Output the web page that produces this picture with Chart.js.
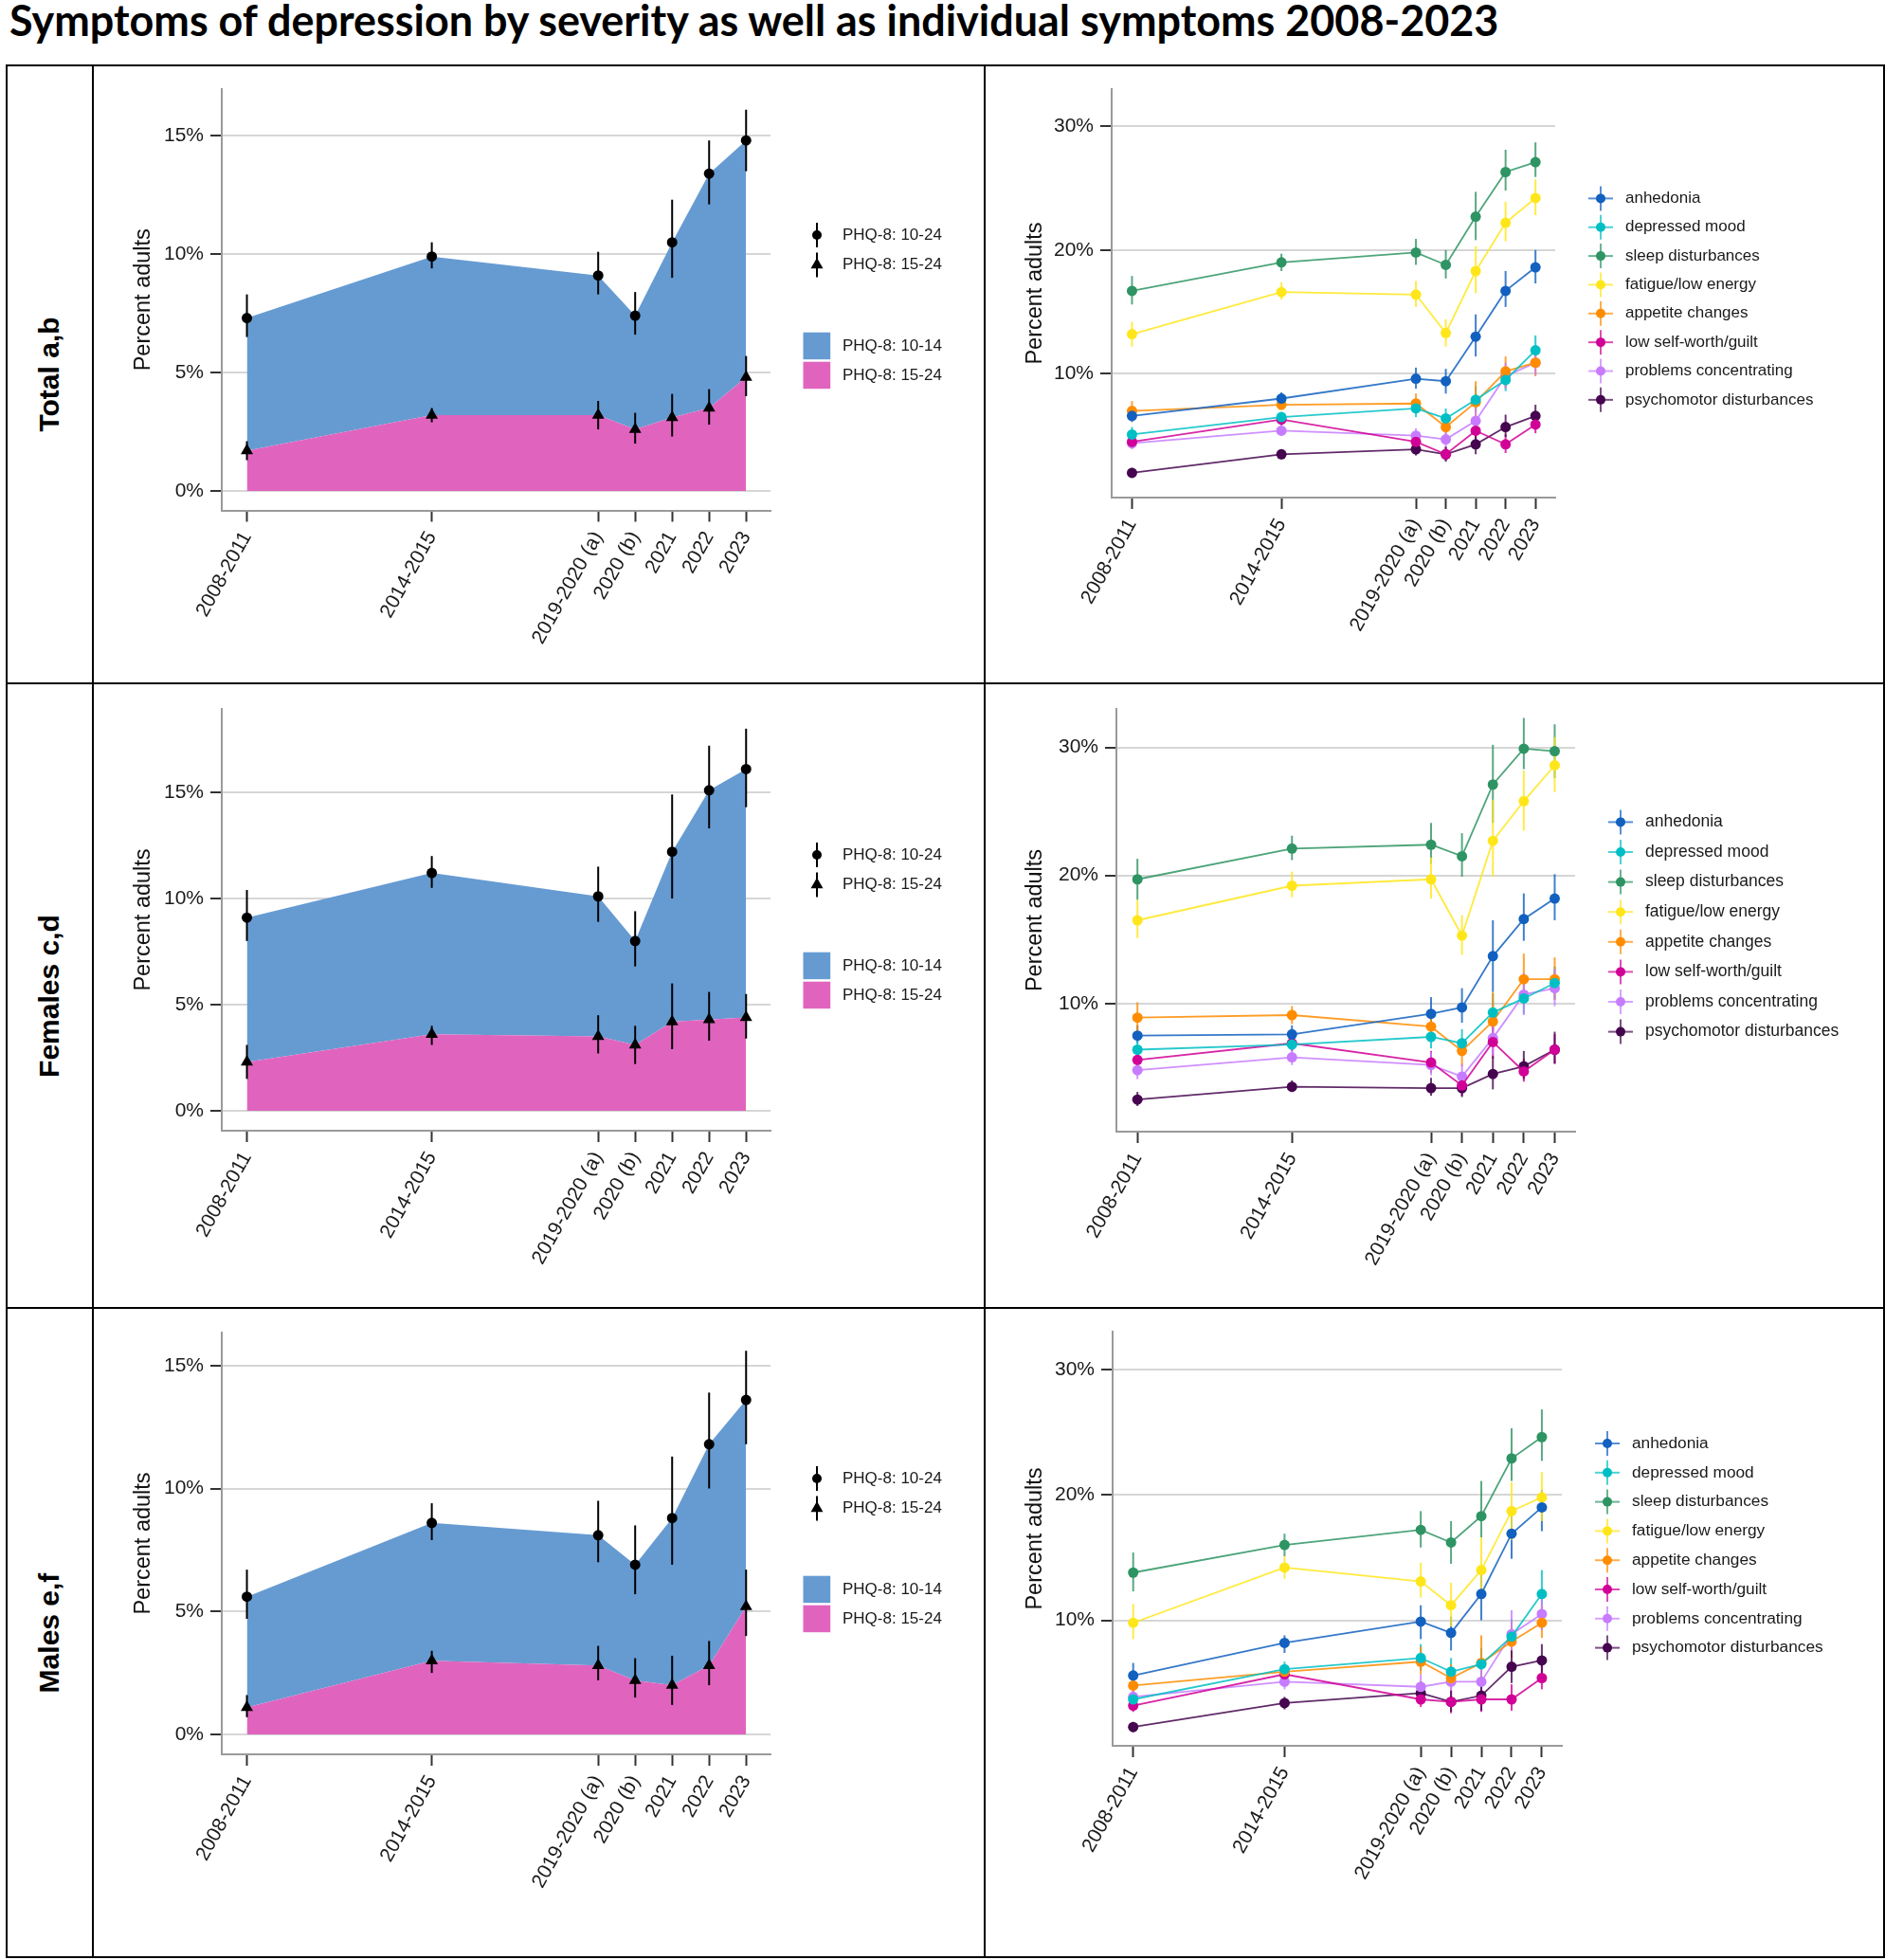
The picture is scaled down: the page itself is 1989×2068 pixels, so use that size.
<!DOCTYPE html>
<html>
<head>
<meta charset="utf-8">
<title>Symptoms of depression by severity</title>
<script src="https://cdn.jsdelivr.net/npm/chart.js@4.4.1/dist/chart.umd.min.js"></script>
<style>
  html, body { margin:0; padding:0; background:#fff; }
  #page { position:relative; width:1989px; height:2068px; overflow:hidden; background:#fff; }
  #title { position:absolute; left:10px; top:-1px; height:44px; line-height:44px; font-family:Lato,'Liberation Sans',sans-serif; font-weight:bold; font-size:33px; color:#000; white-space:nowrap; }
  .rule { position:absolute; background:#000; }
  .rowlabel { position:absolute; left:-148px; width:400px; height:36px; line-height:36px; text-align:center; font-family:'Liberation Sans',Arial,sans-serif; font-weight:bold; font-size:30px; color:#000; transform:rotate(-90deg); white-space:nowrap; }
  canvas { position:absolute; }
</style>
</head>
<body>
<div id="page">
  <div id="title">Symptoms of depression by severity as well as individual symptoms 2008-2023</div>
  <canvas id="c1"></canvas><canvas id="c2"></canvas>
  <canvas id="c3"></canvas><canvas id="c4"></canvas>
  <canvas id="c5"></canvas><canvas id="c6"></canvas>
</div>
<script>
// ---------------- categories / ticks ----------------
const surveyLabels = ['2008-2011', '2014-2015', '2019-2020 (a)', '2020 (b)', '2021', '2022', '2023'];
const surveyYears  = [2009.5, 2014.5, 2019, 2020, 2021, 2022, 2023];
const severityTicks = [0, 5, 10, 15];
const symptomTicks  = [10, 20, 30];
const rowLabels = ['Total a,b', 'Females c,d', 'Males e,f'];
const severityLegend = ['PHQ-8: 10-24', 'PHQ-8: 15-24', 'PHQ-8: 10-14', 'PHQ-8: 15-24'];
const symptomNames = ['anhedonia', 'depressed mood', 'sleep disturbances', 'fatigue/low energy',
  'appetite changes', 'low self-worth/guilt', 'problems concentrating', 'psychomotor disturbances'];

// ---------------- severity (PHQ-8) ----------------
const totalPhq10   = [7.3, 9.9, 9.1, 7.4, 10.5, 13.4, 14.8];
const totalPhq10Lo = [6.5, 9.4, 8.3, 6.6, 9.0, 12.1, 13.5];
const totalPhq10Hi = [8.3, 10.5, 10.1, 8.4, 12.3, 14.8, 16.1];
const totalPhq15   = [1.7, 3.2, 3.2, 2.6, 3.1, 3.5, 4.8];
const totalPhq15Lo = [1.3, 2.9, 2.6, 2.0, 2.3, 2.8, 4.0];
const totalPhq15Hi = [2.1, 3.5, 3.8, 3.3, 4.1, 4.3, 5.7];

const femalesPhq10   = [9.1, 11.2, 10.1, 8.0, 12.2, 15.1, 16.1];
const femalesPhq10Lo = [8.0, 10.5, 8.9, 6.8, 10.0, 13.3, 14.3];
const femalesPhq10Hi = [10.4, 12.0, 11.5, 9.4, 14.9, 17.2, 18.0];
const femalesPhq15   = [2.3, 3.6, 3.5, 3.1, 4.2, 4.3, 4.4];
const femalesPhq15Lo = [1.5, 3.1, 2.7, 2.2, 2.9, 3.3, 3.4];
const femalesPhq15Hi = [3.1, 4.0, 4.5, 4.0, 6.0, 5.6, 5.5];

const malesPhq10   = [5.6, 8.6, 8.1, 6.9, 8.8, 11.8, 13.6];
const malesPhq10Lo = [4.7, 7.9, 7.0, 5.7, 6.9, 10.0, 11.8];
const malesPhq10Hi = [6.7, 9.4, 9.5, 8.5, 11.3, 13.9, 15.6];
const malesPhq15   = [1.1, 3.0, 2.8, 2.2, 2.0, 2.8, 5.2];
const malesPhq15Lo = [0.7, 2.5, 2.2, 1.5, 1.2, 2.0, 4.0];
const malesPhq15Hi = [1.6, 3.4, 3.6, 3.1, 3.2, 3.8, 6.7];

// ---------------- individual symptoms: Total ----------------
const totalAnhedonia   = [6.6, 8.0, 9.6, 9.4, 13.0, 16.7, 18.6];
const totalAnhedoniaLo = [6.1, 7.6, 8.8, 8.4, 11.4, 15.4, 17.3];
const totalAnhedoniaHi = [7.1, 8.5, 10.5, 10.4, 14.8, 18.3, 20.0];
const totalDepressed   = [5.1, 6.5, 7.2, 6.4, 7.9, 9.5, 11.9];
const totalDepressedLo = [4.6, 6.1, 6.5, 5.7, 6.9, 8.6, 10.8];
const totalDepressedHi = [5.7, 6.9, 7.9, 7.2, 9.0, 10.5, 13.1];
const totalSleep   = [16.7, 19.0, 19.8, 18.8, 22.7, 26.3, 27.1];
const totalSleepLo = [15.6, 18.3, 18.8, 17.7, 20.8, 24.8, 25.9];
const totalSleepHi = [17.9, 19.7, 20.9, 20.0, 24.7, 28.1, 28.7];
const totalFatigue   = [13.2, 16.6, 16.4, 13.3, 18.3, 22.2, 24.2];
const totalFatigueLo = [12.2, 16.0, 15.4, 12.2, 16.5, 20.7, 22.8];
const totalFatigueHi = [14.2, 17.4, 17.5, 14.4, 20.3, 23.9, 25.7];
const totalAppetite   = [7.0, 7.5, 7.6, 5.7, 7.7, 10.2, 10.9];
const totalAppetiteLo = [6.3, 7.1, 6.8, 5.0, 6.5, 8.9, 9.8];
const totalAppetiteHi = [7.8, 8.0, 8.4, 6.5, 9.4, 11.4, 11.9];
const totalSelfWorth   = [4.5, 6.3, 4.5, 3.5, 5.4, 4.3, 5.9];
const totalSelfWorthLo = [4.1, 5.8, 4.0, 3.0, 4.6, 3.6, 5.2];
const totalSelfWorthHi = [5.0, 6.8, 5.1, 4.1, 6.3, 5.1, 6.7];
const totalConcentrating   = [4.4, 5.4, 5.0, 4.7, 6.2, 9.8, 10.9];
const totalConcentratingLo = [3.9, 5.0, 4.4, 4.1, 5.2, 8.8, 9.9];
const totalConcentratingHi = [4.9, 5.9, 5.6, 5.4, 7.4, 10.9, 11.9];
const totalPsychomotor   = [2.0, 3.5, 3.9, 3.5, 4.3, 5.7, 6.6];
const totalPsychomotorLo = [1.7, 3.1, 3.4, 2.9, 3.5, 4.9, 5.8];
const totalPsychomotorHi = [2.4, 3.9, 4.5, 4.1, 5.2, 6.7, 7.5];

// ---------------- individual symptoms: Females ----------------
const femalesAnhedonia   = [7.5, 7.6, 9.2, 9.7, 13.7, 16.6, 18.2];
const femalesAnhedoniaLo = [6.9, 7.0, 8.1, 8.5, 10.9, 14.9, 16.5];
const femalesAnhedoniaHi = [8.3, 8.3, 10.5, 11.2, 16.5, 18.6, 20.1];
const femalesDepressed   = [6.4, 6.8, 7.4, 6.9, 9.3, 10.4, 11.6];
const femalesDepressedLo = [5.7, 6.3, 6.5, 5.9, 7.9, 9.2, 10.3];
const femalesDepressedHi = [7.1, 7.4, 8.3, 8.0, 10.8, 11.8, 12.9];
const femalesSleep   = [19.7, 22.1, 22.4, 21.5, 27.1, 29.9, 29.7];
const femalesSleepLo = [18.1, 21.2, 20.9, 19.9, 24.1, 28.3, 27.6];
const femalesSleepHi = [21.3, 23.1, 24.1, 23.3, 30.2, 32.3, 31.8];
const femalesFatigue   = [16.5, 19.2, 19.7, 15.3, 22.7, 25.8, 28.6];
const femalesFatigueLo = [15.1, 18.3, 18.2, 13.8, 19.9, 23.5, 26.5];
const femalesFatigueHi = [18.1, 20.3, 21.4, 16.9, 25.9, 28.2, 30.8];
const femalesAppetite   = [8.9, 9.1, 8.2, 6.3, 8.6, 11.9, 11.9];
const femalesAppetiteLo = [7.8, 8.4, 7.3, 5.1, 7.2, 10.1, 10.3];
const femalesAppetiteHi = [10.1, 9.8, 9.2, 7.3, 10.9, 13.9, 13.6];
const femalesSelfWorth   = [5.6, 6.9, 5.4, 3.6, 7.0, 4.7, 6.4];
const femalesSelfWorthLo = [4.9, 6.3, 4.6, 2.8, 5.7, 3.9, 5.3];
const femalesSelfWorthHi = [6.4, 7.6, 6.3, 4.5, 8.5, 5.7, 7.6];
const femalesConcentrating   = [4.8, 5.8, 5.2, 4.3, 7.3, 10.7, 11.2];
const femalesConcentratingLo = [4.1, 5.2, 4.4, 3.4, 6.0, 9.1, 9.8];
const femalesConcentratingHi = [5.6, 6.4, 6.2, 5.3, 8.7, 12.4, 12.7];
const femalesPsychomotor   = [2.5, 3.5, 3.4, 3.4, 4.5, 5.1, 6.4];
const femalesPsychomotorLo = [2.0, 3.1, 2.8, 2.7, 3.3, 4.1, 5.3];
const femalesPsychomotorHi = [3.1, 4.0, 4.2, 4.4, 5.9, 6.3, 7.8];

// ---------------- individual symptoms: Males ----------------
const malesAnhedonia   = [5.6, 8.2, 9.9, 9.0, 12.1, 16.9, 19.0];
const malesAnhedoniaLo = [4.8, 7.4, 8.5, 7.6, 10.0, 14.9, 17.1];
const malesAnhedoniaHi = [6.6, 8.8, 11.2, 10.3, 14.1, 18.8, 20.4];
const malesDepressed   = [3.7, 6.1, 7.0, 5.9, 6.5, 8.7, 12.1];
const malesDepressedLo = [3.2, 5.5, 6.0, 4.8, 5.4, 7.4, 10.6];
const malesDepressedHi = [4.4, 6.7, 8.1, 7.0, 7.8, 10.1, 14.0];
const malesSleep   = [13.8, 16.0, 17.2, 16.2, 18.3, 22.9, 24.6];
const malesSleepLo = [12.3, 15.1, 15.8, 14.5, 16.6, 21.1, 22.7];
const malesSleepHi = [15.4, 16.9, 18.7, 17.9, 21.1, 25.3, 26.8];
const malesFatigue   = [9.8, 14.2, 13.1, 11.2, 14.0, 18.7, 19.8];
const malesFatigueLo = [8.5, 13.3, 11.8, 9.5, 11.8, 16.4, 17.9];
const malesFatigueHi = [11.3, 15.1, 14.6, 13.0, 16.6, 21.0, 21.8];
const malesAppetite   = [4.8, 5.9, 6.7, 5.4, 6.6, 8.3, 9.8];
const malesAppetiteLo = [4.2, 5.4, 5.7, 4.4, 5.3, 7.0, 8.6];
const malesAppetiteHi = [5.5, 6.4, 7.9, 6.5, 8.8, 9.9, 11.2];
const malesSelfWorth   = [3.2, 5.7, 3.7, 3.5, 3.7, 3.7, 5.4];
const malesSelfWorthLo = [2.7, 5.1, 3.1, 2.6, 2.7, 2.8, 4.5];
const malesSelfWorthHi = [3.8, 6.3, 4.4, 4.4, 4.9, 4.9, 6.5];
const malesConcentrating   = [3.9, 5.1, 4.7, 5.1, 5.1, 8.9, 10.5];
const malesConcentratingLo = [3.3, 4.5, 3.9, 4.0, 3.9, 7.4, 9.2];
const malesConcentratingHi = [4.5, 5.6, 5.7, 6.2, 6.3, 10.8, 12.0];
const malesPsychomotor   = [1.5, 3.4, 4.2, 3.5, 4.0, 6.3, 6.8];
const malesPsychomotorLo = [1.1, 2.9, 3.4, 2.7, 2.8, 5.0, 5.7];
const malesPsychomotorHi = [1.9, 3.9, 5.1, 4.4, 5.5, 7.6, 8.1];

// ---------------- styles ----------------
const symptomColors = ['#1260bf', '#00bfc4', '#2e9463', '#ffe61a', '#ff8c00', '#d10097', '#c77cff', '#45064f'];
const blueFill = '#669bd2';
const pinkFill = '#e064be';
const FONT = "'Liberation Sans', Arial, sans-serif";
Chart.defaults.font.family = FONT;
Chart.defaults.color = '#1a1a1a';

function fade(hex, a) {
  const n = parseInt(hex.slice(1), 16);
  return `rgba(${(n >> 16) & 255},${(n >> 8) & 255},${n & 255},${a})`;
}

// ---------------- page frame ----------------
const page = document.getElementById('page');
function rule(x, y, w, h) {
  const d = document.createElement('div'); d.className = 'rule';
  d.style.left = x + 'px'; d.style.top = y + 'px'; d.style.width = w + 'px'; d.style.height = h + 'px';
  page.appendChild(d);
}
const rowTops = [68, 720, 1379, 2064];
rowTops.forEach(y => rule(6, y, 1983, 2));
[6, 96.5, 1038, 1986.5].forEach(x => rule(x, 68, 2, 1998));
rowLabels.forEach((t, i) => {
  const d = document.createElement('div'); d.className = 'rowlabel'; d.textContent = t;
  d.style.top = ((rowTops[i] + rowTops[i + 1]) / 2 + 1 - 18) + 'px';
  page.appendChild(d);
});
(function fitTitle() {
  const t = document.getElementById('title');
  const w = t.getBoundingClientRect().width;
  if (w > 0) t.style.fontSize = (33 * 1572 / w).toFixed(2) + 'px';
})();

// ---------------- helpers ----------------
const xMin = 2008.82, xMax = 2023.66;
const pts = arr => surveyYears.map((x, i) => ({ x: x, y: arr[i] }));

function placeCanvas(id, r) {
  const c = document.getElementById(id);
  c.width = r.w; c.height = r.h;
  c.style.left = r.x + 'px'; c.style.top = r.y + 'px';
  c.style.width = r.w + 'px'; c.style.height = r.h + 'px';
  return c;
}

function xScaleOptions(bottomHeight) {
  return {
    type: 'linear', position: 'bottom', min: xMin, max: xMax,
    afterBuildTicks: s => { s.ticks = surveyYears.map(v => ({ value: v })); },
    afterFit: s => { s.height = bottomHeight; },
    grid: { drawOnChartArea: false, drawTicks: true, tickLength: 12, tickColor: '#333', tickWidth: 2 },
    border: { display: true, color: '#9a9a9a', width: 2 },
    ticks: { autoSkip: false, minRotation: 61, maxRotation: 61, padding: 6, font: { size: 21 }, color: '#1a1a1a',
      callback: (v, i) => surveyLabels[i] }
  };
}

function yScaleOptions(leftWidth, min, max, tickVals, z, gridColor) {
  return {
    type: 'linear', position: 'left', min: min, max: max, z: z,
    afterBuildTicks: s => { s.ticks = tickVals.map(v => ({ value: v })); },
    afterFit: s => { s.width = leftWidth; },
    grid: { color: gridColor, lineWidth: 2, drawTicks: true, tickLength: 12, tickColor: '#333', tickWidth: 2 },
    border: { display: true, color: '#9a9a9a', width: 2 },
    ticks: { padding: 7, font: { size: 21 }, color: '#1a1a1a', callback: v => v + '%' },
    title: { display: true, text: 'Percent adults', font: { size: 23.5 }, color: '#111', padding: { top: 38, bottom: 0 } }
  };
}

function errorBarPlugin(when, lineW) {
  const draw = chart => {
    const ctx = chart.ctx, xs = chart.scales.x, ys = chart.scales.y;
    ctx.save();
    ctx.lineCap = 'butt';
    chart.data.datasets.forEach(ds => {
      if (!ds.errLow) return;
      ctx.strokeStyle = ds.errColor; ctx.lineWidth = lineW;
      ds.data.forEach((p, j) => {
        const px = xs.getPixelForValue(p.x);
        ctx.beginPath();
        ctx.moveTo(px, ys.getPixelForValue(ds.errLow[j]));
        ctx.lineTo(px, ys.getPixelForValue(ds.errHigh[j]));
        ctx.stroke();
      });
    });
    ctx.restore();
  };
  return when === 'after' ? { id: 'errAfter', afterDatasetsDraw: draw } : { id: 'errBefore', beforeDatasetsDraw: draw };
}

function drawTriangle(ctx, x, y, r) {
  let rad = 0;
  ctx.beginPath();
  ctx.moveTo(x + Math.sin(rad) * r, y - Math.cos(rad) * r);
  rad += 2 * Math.PI / 3;
  ctx.lineTo(x + Math.sin(rad) * r, y - Math.cos(rad) * r);
  rad += 2 * Math.PI / 3;
  ctx.lineTo(x + Math.sin(rad) * r, y - Math.cos(rad) * r);
  ctx.closePath();
  ctx.fill();
}

const severityLegendPlugin = {
  id: 'severityLegend',
  afterDraw(chart) {
    const ctx = chart.ctx, ca = chart.chartArea;
    const mx = ca.right + 49, tx = ca.right + 76;
    const y1 = ca.top + 154, y2 = ca.top + 185.5;
    ctx.save();
    ctx.strokeStyle = '#000'; ctx.fillStyle = '#000'; ctx.lineWidth = 2;
    [y1, y2].forEach(yy => { ctx.beginPath(); ctx.moveTo(mx, yy - 13); ctx.lineTo(mx, yy + 13); ctx.stroke(); });
    ctx.beginPath(); ctx.arc(mx, y1, 5, 0, Math.PI * 2); ctx.fill();
    drawTriangle(ctx, mx, y2, 7.5);
    const bx = ca.right + 34.5, b1 = ca.top + 256.7, b2 = ca.top + 287.7, bw = 28.7, bh = 28.5;
    ctx.fillStyle = blueFill; ctx.fillRect(bx, b1, bw, bh);
    ctx.fillStyle = pinkFill; ctx.fillRect(bx, b2, bw, bh);
    ctx.fillStyle = '#1a1a1a';
    ctx.font = '17px ' + FONT; ctx.textBaseline = 'middle'; ctx.textAlign = 'left';
    ctx.fillText(severityLegend[0], tx, y1);
    ctx.fillText(severityLegend[1], tx, y2);
    ctx.fillText(severityLegend[2], tx, b1 + bh / 2);
    ctx.fillText(severityLegend[3], tx, b2 + bh / 2);
    ctx.restore();
  }
};

function symptomLegendPlugin(firstDy, spacing, fontSize) {
  return {
    id: 'symptomLegend',
    afterDraw(chart) {
      const ctx = chart.ctx, ca = chart.chartArea;
      const mx = ca.right + 48, tx = mx + 26;
      ctx.save();
      ctx.font = fontSize + 'px ' + FONT; ctx.textBaseline = 'middle'; ctx.textAlign = 'left';
      symptomNames.forEach((name, k) => {
        const yy = ca.top + firstDy + k * spacing;
        ctx.strokeStyle = fade(symptomColors[k], 0.7); ctx.lineWidth = 2;
        ctx.beginPath(); ctx.moveTo(mx - 13, yy); ctx.lineTo(mx + 13, yy); ctx.stroke();
        ctx.beginPath(); ctx.moveTo(mx, yy - 13); ctx.lineTo(mx, yy + 13); ctx.stroke();
        ctx.fillStyle = symptomColors[k];
        ctx.beginPath(); ctx.arc(mx, yy, 5, 0, Math.PI * 2); ctx.fill();
        ctx.fillStyle = '#1a1a1a';
        ctx.fillText(name, tx, yy);
      });
      ctx.restore();
    }
  };
}

function severityChart(id, cv, area, yMin, yMax, p10, p10lo, p10hi, p15, p15lo, p15hi) {
  const canvas = placeCanvas(id, cv);
  return new Chart(canvas, {
    type: 'line',
    data: { datasets: [
      { label: severityLegend[1], data: pts(p15), errLow: p15lo, errHigh: p15hi, errColor: '#000',
        fill: 'origin', backgroundColor: pinkFill, borderColor: 'rgba(0,0,0,0)', borderWidth: 1, tension: 0,
        pointStyle: 'triangle', pointRadius: 7.5, pointBackgroundColor: '#000', pointBorderWidth: 0 },
      { label: severityLegend[0], data: pts(p10), errLow: p10lo, errHigh: p10hi, errColor: '#000',
        fill: '-1', backgroundColor: blueFill, borderColor: 'rgba(0,0,0,0)', borderWidth: 1, tension: 0,
        pointStyle: 'circle', pointRadius: 5.5, pointBackgroundColor: '#000', pointBorderWidth: 0 }
    ] },
    options: {
      responsive: false, animation: false, devicePixelRatio: 1,
      layout: { padding: { top: area.top - cv.y, right: cv.x + cv.w - area.right, left: 0, bottom: 0 } },
      scales: {
        x: xScaleOptions(cv.y + cv.h - area.bottom),
        y: yScaleOptions(area.left - cv.x, yMin, yMax, severityTicks, 1, 'rgba(0,0,0,0.16)')
      },
      plugins: { legend: { display: false }, tooltip: { enabled: false } }
    },
    plugins: [errorBarPlugin('after', 2), severityLegendPlugin]
  });
}

function symptomChart(id, cv, area, series, legendFirst, legendSpacing, legendFont) {
  const canvas = placeCanvas(id, cv);
  const datasets = series.map((s, k) => ({
    label: symptomNames[k], data: pts(s[0]), errLow: s[1], errHigh: s[2], errColor: fade(symptomColors[k], 0.8),
    borderColor: fade(symptomColors[k], 0.85), backgroundColor: symptomColors[k], borderWidth: 1.8, fill: false, tension: 0,
    pointRadius: 5.5, pointBackgroundColor: symptomColors[k], pointBorderWidth: 0
  }));
  return new Chart(canvas, {
    type: 'line',
    data: { datasets: datasets },
    options: {
      responsive: false, animation: false, devicePixelRatio: 1,
      layout: { padding: { top: area.top - cv.y, right: cv.x + cv.w - area.right, left: 0, bottom: 0 } },
      scales: {
        x: xScaleOptions(cv.y + cv.h - area.bottom),
        y: yScaleOptions(area.left - cv.x, 0, 33, symptomTicks, 0, '#d6d6d6')
      },
      plugins: { legend: { display: false }, tooltip: { enabled: false } }
    },
    plugins: [errorBarPlugin('before', 2), symptomLegendPlugin(legendFirst, legendSpacing, legendFont)]
  });
}

// ---------------- panels ----------------
const leftCanvas = [
  { x: 99, y: 70, w: 938, h: 650 },
  { x: 99, y: 722, w: 938, h: 657 },
  { x: 99, y: 1381, w: 938, h: 683 }
];
const rightCanvas = [
  { x: 1040, y: 70, w: 946, h: 650 },
  { x: 1040, y: 722, w: 946, h: 657 },
  { x: 1040, y: 1381, w: 946, h: 683 }
];

severityChart('c1', leftCanvas[0], { left: 234, top: 94, right: 813, bottom: 538.5 }, -0.82, 16.97,
  totalPhq10, totalPhq10Lo, totalPhq10Hi, totalPhq15, totalPhq15Lo, totalPhq15Hi);
severityChart('c3', leftCanvas[1], { left: 234, top: 748, right: 813, bottom: 1193 }, -0.94, 18.93,
  femalesPhq10, femalesPhq10Lo, femalesPhq10Hi, femalesPhq15, femalesPhq15Lo, femalesPhq15Hi);
severityChart('c5', leftCanvas[2], { left: 234, top: 1406, right: 813, bottom: 1851 }, -0.81, 16.34,
  malesPhq10, malesPhq10Lo, malesPhq10Hi, malesPhq15, malesPhq15Lo, malesPhq15Hi);

symptomChart('c2', rightCanvas[0], { left: 1173, top: 94, right: 1641, bottom: 525 }, [
  [totalAnhedonia, totalAnhedoniaLo, totalAnhedoniaHi],
  [totalDepressed, totalDepressedLo, totalDepressedHi],
  [totalSleep, totalSleepLo, totalSleepHi],
  [totalFatigue, totalFatigueLo, totalFatigueHi],
  [totalAppetite, totalAppetiteLo, totalAppetiteHi],
  [totalSelfWorth, totalSelfWorthLo, totalSelfWorthHi],
  [totalConcentrating, totalConcentratingLo, totalConcentratingHi],
  [totalPsychomotor, totalPsychomotorLo, totalPsychomotorHi]
], 115.4, 30.35, 17);

symptomChart('c4', rightCanvas[1], { left: 1178, top: 748, right: 1662, bottom: 1194 }, [
  [femalesAnhedonia, femalesAnhedoniaLo, femalesAnhedoniaHi],
  [femalesDepressed, femalesDepressedLo, femalesDepressedHi],
  [femalesSleep, femalesSleepLo, femalesSleepHi],
  [femalesFatigue, femalesFatigueLo, femalesFatigueHi],
  [femalesAppetite, femalesAppetiteLo, femalesAppetiteHi],
  [femalesSelfWorth, femalesSelfWorthLo, femalesSelfWorthHi],
  [femalesConcentrating, femalesConcentratingLo, femalesConcentratingHi],
  [femalesPsychomotor, femalesPsychomotorLo, femalesPsychomotorHi]
], 119.4, 31.6, 17.5);

symptomChart('c6', rightCanvas[2], { left: 1174, top: 1405, right: 1648, bottom: 1842 }, [
  [malesAnhedonia, malesAnhedoniaLo, malesAnhedoniaHi],
  [malesDepressed, malesDepressedLo, malesDepressedHi],
  [malesSleep, malesSleepLo, malesSleepHi],
  [malesFatigue, malesFatigueLo, malesFatigueHi],
  [malesAppetite, malesAppetiteLo, malesAppetiteHi],
  [malesSelfWorth, malesSelfWorthLo, malesSelfWorthHi],
  [malesConcentrating, malesConcentratingLo, malesConcentratingHi],
  [malesPsychomotor, malesPsychomotorLo, malesPsychomotorHi]
], 118, 30.8, 17.3);
</script>
</body>
</html>
